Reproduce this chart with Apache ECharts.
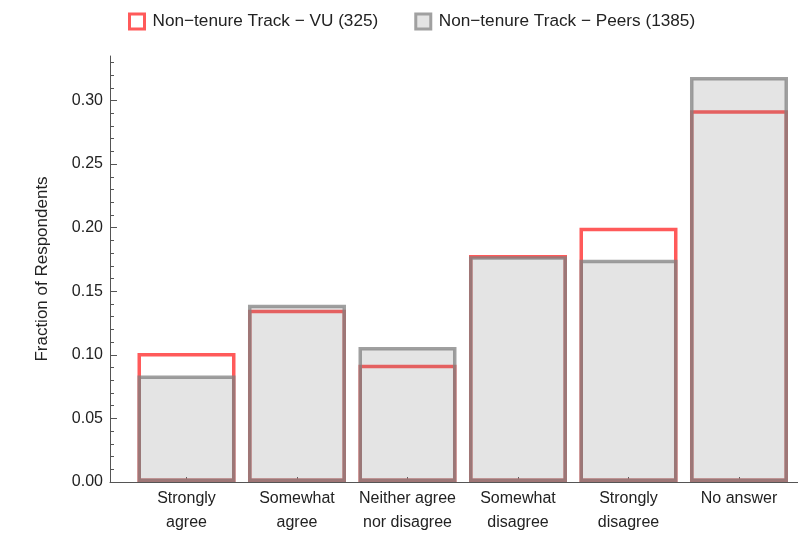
<!DOCTYPE html>
<html>
<head>
<meta charset="utf-8">
<script src="https://cdn.jsdelivr.net/npm/echarts@6/dist/echarts.min.js"></script>
<style>
html,body{margin:0;padding:0;background:#fff;}
#c{width:798px;height:546px;}
</style>
</head>
<body>
<div id="c"></div>
<script>
const categories = ['Strongly\nagree', 'Somewhat\nagree', 'Neither agree\nnor disagree', 'Somewhat\ndisagree', 'Strongly\ndisagree', 'No answer'];
const seriesNames = ['Non\u2212tenure Track \u2212 VU (325)', 'Non\u2212tenure Track \u2212 Peers (1385)'];
const vuValues = [0.1015, 0.1354, 0.0923, 0.1785, 0.2000, 0.2923];
const peersValues = [0.0838, 0.1394, 0.1061, 0.1776, 0.1747, 0.3184];
const yMajorTicks = [0, 0.05, 0.10, 0.15, 0.20, 0.25, 0.30];
const yMinorTicks = [0.01,0.02,0.03,0.04,0.06,0.07,0.08,0.09,0.11,0.12,0.13,0.14,0.16,0.17,0.18,0.19,0.21,0.22,0.23,0.24,0.26,0.27,0.28,0.29,0.31,0.32,0.33];

const FONT = "'Liberation Sans', Arial, sans-serif";
const positions = categories.map((c, i) => i + 1);

const chart = echarts.init(document.getElementById('c'), null, {renderer: 'canvas'});
chart.setOption({
  animation: false,
  backgroundColor: '#ffffff',
  textStyle: {fontFamily: FONT},
  legend: {
    left: 123,
    top: 7.5,
    itemWidth: 15,
    itemHeight: 15,
    itemGap: 36,
    icon: 'rect',
    textStyle: {fontSize: 17.2, color: '#222', fontFamily: FONT, padding: [0, 0, 0, 3]},
    data: [
      {name: seriesNames[0], itemStyle: {color: '#ffffff', borderColor: '#ff5a5a', borderWidth: 3}},
      {name: seriesNames[1], itemStyle: {color: '#e4e4e4', borderColor: '#a0a0a0', borderWidth: 3}}
    ]
  },
  grid: {left: 110, right: 0, top: 56, bottom: 64, containLabel: false},
  xAxis: {
    type: 'value',
    min: 0.3077,
    max: 6.534,
    splitLine: {show: false},
    axisLine: {show: true, lineStyle: {color: '#555', width: 1}},
    axisTick: {show: true, inside: true, length: 5, customValues: positions, lineStyle: {color: '#555'}},
    axisLabel: {
      customValues: positions,
      formatter: function (v) { return categories[Math.round(v) - 1] || ''; },
      fontSize: 16, lineHeight: 24, color: '#222', margin: 5, fontFamily: FONT
    }
  },
  yAxis: [
    {
      type: 'value',
      min: 0,
      max: 0.335,
      name: 'Fraction of Respondents',
      nameLocation: 'middle',
      nameGap: 59,
      nameTextStyle: {fontSize: 17, color: '#222', fontFamily: FONT},
      splitLine: {show: false},
      axisLine: {show: true, lineStyle: {color: '#555', width: 1}},
      axisTick: {show: true, inside: true, length: 7, customValues: yMajorTicks, lineStyle: {color: '#555'}},
      axisLabel: {
        customValues: yMajorTicks,
        formatter: function (v) { return v.toFixed(2); },
        fontSize: 16, color: '#222', margin: 7, fontFamily: FONT
      }
    },
    {
      type: 'value',
      min: 0,
      max: 0.335,
      position: 'left',
      offset: 0,
      splitLine: {show: false},
      axisLine: {show: false},
      axisTick: {show: true, inside: true, length: 4, customValues: yMinorTicks, lineStyle: {color: '#555'}},
      axisLabel: {show: false}
    }
  ],
  series: [
    {
      name: seriesNames[0],
      type: 'bar',
      barWidth: 98,
      barGap: '-100%',
      data: vuValues.map((v, i) => [positions[i], v]),
      itemStyle: {color: 'rgba(0,0,0,0)', borderColor: '#ff5a5a', borderWidth: 3.5},
      emphasis: {disabled: true}
    },
    {
      name: seriesNames[1],
      type: 'bar',
      barWidth: 98,
      barGap: '-100%',
      data: peersValues.map((v, i) => [positions[i], v]),
      itemStyle: {color: 'rgba(120,120,120,0.2)', borderColor: 'rgba(128,128,128,0.75)', borderWidth: 3.5},
      emphasis: {disabled: true}
    }
  ]
});
</script>
</body>
</html>
